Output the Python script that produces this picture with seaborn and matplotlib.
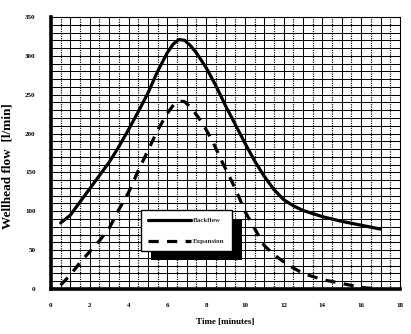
import matplotlib
matplotlib.use("Agg")
import matplotlib.pyplot as plt
from matplotlib.patches import Rectangle
from matplotlib.lines import Line2D
import numpy as np
import pandas as pd
import seaborn as sns

# Wellhead flow during the test, litres per minute
backflow_t = [0.5, 1, 1.5, 2, 2.5, 3, 3.5, 4, 4.5, 5, 5.5, 6, 6.3, 6.6, 6.9, 7.2, 7.5, 8, 8.5, 9,
              9.5, 10, 10.5, 11, 11.5, 12, 12.5, 13, 14, 15, 16, 17]
backflow_q = [85, 95, 112, 129, 146, 163, 183, 205, 228, 252, 280, 304, 315, 321, 320, 313, 304, 285,
              262, 236, 212, 188, 165, 145, 128, 115, 107, 101, 93, 87, 82, 77]

expansion_t = [0.5, 1, 1.5, 2, 2.5, 3, 3.5, 4, 4.5, 5, 5.5, 6, 6.3, 6.6, 6.9, 7.3, 7.8, 8.3, 8.8, 9.3,
               9.7, 10, 10.5, 11, 11.5, 12, 12.5, 13, 14, 15, 16, 16.8]
expansion_q = [5, 18, 34, 48, 62, 78, 102, 124, 152, 178, 204, 226, 236, 242, 241, 231, 214, 192, 165,
               140, 118, 100, 78, 56, 44, 35, 27, 20, 12, 7, 2, 0]

series_names = ["Backflow", "Expansion"]
x_ticks = list(range(0, 19, 2))
y_ticks = list(range(0, 351, 50))

df = pd.concat([
    pd.DataFrame({"t": backflow_t, "q": backflow_q, "series": series_names[0]}),
    pd.DataFrame({"t": expansion_t, "q": expansion_q, "series": series_names[1]}),
])

sns.set_theme(style="white")
plt.rcParams["font.family"] = ["Liberation Serif", "DejaVu Serif"]
plt.rcParams["font.weight"] = "bold"

fig = plt.figure(figsize=(4.11, 3.34), dpi=100)
ax = fig.add_axes([0.124, 0.135, 0.849, 0.814])

sns.lineplot(data=df, x="t", y="q", style="series", color="black",
             dashes={"Backflow": "", "Expansion": (3.2, 2.6)},
             linewidth=2.3, ax=ax, legend=False, sort=False, zorder=3)
for ln in ax.get_lines():
    ln.set_solid_joinstyle("round")
    ln.set_solid_capstyle("round")

ax.set_xlim(0, 18)
ax.set_ylim(0, 350)
ax.set_xticks(x_ticks)
ax.set_yticks(y_ticks)
ax.set_xticklabels([str(v) for v in x_ticks])
ax.set_yticklabels([str(v) for v in y_ticks])

# dense chart-paper grid
ax.grid(False)
for v in np.arange(0.5, 18, 0.5):
    solid = abs(v - round(v)) < 1e-9
    ax.axvline(v, color="black", lw=0.75 if solid else 0.85,
               ls="-" if solid else (0, (1, 1)), zorder=1)
for v in range(10, 350, 10):
    ax.axhline(v, color="black", lw=0.75, zorder=1)

for side in ("left", "bottom"):
    ax.spines[side].set_linewidth(2.6)
    ax.spines[side].set_color("black")
for side in ("top", "right"):
    ax.spines[side].set_linewidth(0.8)
    ax.spines[side].set_color("black")

ax.tick_params(axis="both", which="major", direction="in", length=3.5, width=2,
               color="black", labelsize=5, labelcolor="black")
ax.tick_params(axis="y", which="major", pad=11)
ax.tick_params(axis="x", which="major", pad=10)
ax.tick_params(which="minor", length=0)
for lab in ax.get_xticklabels() + ax.get_yticklabels():
    lab.set_fontweight("bold")

ax.set_xlabel("Time [minutes]", fontsize=6.5, fontweight="bold", color="black", labelpad=7)
ax.set_ylabel("Wellhead flow  [l/min]", fontsize=9.5, fontweight="bold", color="black")
ax.yaxis.set_label_coords(-0.107, 0.45)

handles = [
    Line2D([], [], color="black", lw=2.3, ls="-"),
    Line2D([], [], color="black", lw=2.3, dashes=(3.2, 2.6)),
]
leg = ax.legend(handles, series_names, loc="upper left", bbox_to_anchor=(0.248, 0.302),
                frameon=True, fancybox=False, handlelength=6.2,
                handletextpad=0.3, labelspacing=2.2, borderpad=1.0,
                prop={"weight": "bold", "size": 5})
leg.get_frame().set_edgecolor("black")
leg.get_frame().set_linewidth(1.0)
leg.get_frame().set_facecolor("white")
leg.get_frame().set_alpha(1)
leg.set_zorder(6)

# solid drop shadow offset down-right behind the legend box
fig.canvas.draw()
bb = leg.get_window_extent()
inv = fig.transFigure.inverted()
(x0, y0) = inv.transform((bb.x0 + 10, bb.y0 - 9))
(x1, y1) = inv.transform((bb.x1 + 10, bb.y1 - 9))
shadow = Rectangle((x0, y0), x1 - x0, y1 - y0, transform=fig.transFigure,
                   facecolor="black", edgecolor="none", zorder=5)
ax.add_artist(shadow)
shadow.set_clip_on(False)

fig.savefig("out.png", dpi=100)
